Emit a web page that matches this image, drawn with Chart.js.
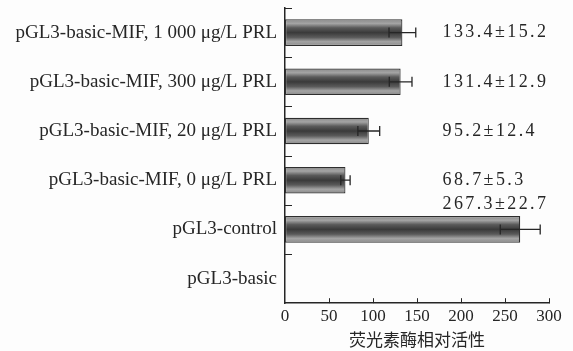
<!DOCTYPE html>
<html>
<head>
<meta charset="utf-8">
<script src="https://cdn.jsdelivr.net/npm/chart.js@4/dist/chart.umd.min.js"></script>
<style>
  html, body { margin: 0; padding: 0; background: #fdfdfd; }
  #wrap { width: 573px; height: 351px; position: relative; }
</style>
</head>
<body>
<div id="wrap"><canvas id="chart"></canvas></div>
<script>
const categories = [
    'pGL3-basic-MIF, 1 000 μg/L PRL',
    'pGL3-basic-MIF, 300 μg/L PRL',
    'pGL3-basic-MIF, 20 μg/L PRL',
    'pGL3-basic-MIF, 0 μg/L PRL',
    'pGL3-control',
    'pGL3-basic'
];
const means = [133.4, 131.4, 95.2, 68.7, 267.3, null];
const errors = [15.2, 12.9, 12.4, 5.3, 22.7, null];
const valueLabels = ['133.4±15.2', '131.4±12.9', '95.2±12.4', '68.7±5.3', '267.3±22.7', ''];
const xTicks = [0, 50, 100, 150, 200, 250, 300];

const ink = '#262626';
const serif = '"Liberation Serif", "Times New Roman", serif';

const decorations = {
    id: 'decorations',
    beforeDatasetsDraw(chart) {
        // grey bar with a darker band in the middle, like the printed figure
        const ctx = chart.ctx;
        chart.getDatasetMeta(0).data.forEach(bar => {
            const half = bar.height / 2;
            if (!isFinite(bar.y) || !(half > 0)) return;
            const g = ctx.createLinearGradient(0, bar.y - half, 0, bar.y + half);
            g.addColorStop(0, '#8a8a8a');
            g.addColorStop(0.16, '#a4a4a4');
            g.addColorStop(0.32, '#5a5a5a');
            g.addColorStop(0.5, '#3a3a3a');
            g.addColorStop(0.68, '#5a5a5a');
            g.addColorStop(0.84, '#a4a4a4');
            g.addColorStop(1, '#8a8a8a');
            bar.options.backgroundColor = g;
        });
    },
    afterDatasetsDraw(chart) {
        const ctx = chart.ctx;
        const xs = chart.scales.x, ys = chart.scales.y;
        const meta = chart.getDatasetMeta(0);
        ctx.save();
        ctx.strokeStyle = ink;
        ctx.lineWidth = 1.3;
        // error bars
        meta.data.forEach((bar, i) => {
            if (means[i] == null) return;
            const y = bar.y;
            const x1 = xs.getPixelForValue(means[i] - errors[i]);
            const x2 = xs.getPixelForValue(means[i] + errors[i]);
            ctx.beginPath();
            ctx.moveTo(x1, y); ctx.lineTo(x2, y);
            ctx.moveTo(x1, y - 5); ctx.lineTo(x1, y + 5);
            ctx.moveTo(x2, y - 5); ctx.lineTo(x2, y + 5);
            ctx.stroke();
        });
        // inward tick marks
        ctx.lineWidth = 1;
        const step = (ys.bottom - ys.top) / categories.length;
        for (let i = 0; i < categories.length; i++) {
            const y = Math.round(ys.top + i * step) + 0.5;
            ctx.beginPath();
            ctx.moveTo(xs.left, y); ctx.lineTo(xs.left + 7, y);
            ctx.stroke();
        }
        xTicks.forEach(v => {
            if (v === 0) return;
            const x = Math.round(xs.getPixelForValue(v)) + 0.5;
            ctx.beginPath();
            ctx.moveTo(x, ys.bottom); ctx.lineTo(x, ys.bottom - 5);
            ctx.stroke();
        });
        // value labels
        ctx.fillStyle = ink;
        ctx.font = '18px ' + serif;
        ctx.letterSpacing = '2.4px';
        ctx.textBaseline = 'middle';
        ctx.textAlign = 'left';
        meta.data.forEach((bar, i) => {
            if (!valueLabels[i]) return;
            let y = bar.y;
            if (means[i] > 170) y = bar.y - bar.height / 2 - 12;
            ctx.fillText(valueLabels[i], xs.getPixelForValue(179), y);
        });
        ctx.restore();
    }
};

new Chart(document.getElementById('chart'), {
    type: 'bar',
    data: {
        labels: categories,
        datasets: [{
            data: means,
            backgroundColor: () => '#6a6a6a',
            borderColor: '#2e2e2e',
            borderWidth: 1.2,
            borderSkipped: false,
            categoryPercentage: 0.9,
            barPercentage: 0.6
        }]
    },
    options: {
        indexAxis: 'y',
        responsive: true,
        maintainAspectRatio: false,
        animation: false,
        layout: { padding: { left: 8, right: 24, top: 8, bottom: 1 } },
        plugins: {
            legend: { display: false },
            tooltip: { enabled: false }
        },
        scales: {
            x: {
                min: 0,
                max: 300,
                afterBuildTicks(scale) { scale.ticks = xTicks.map(v => ({ value: v })); },
                grid: { display: false, drawTicks: false },
                border: { display: true, color: ink, width: 1.5 },
                ticks: { color: ink, font: { family: serif, size: 17 }, padding: 3 },
                title: {
                    display: true,
                    text: '荧光素酶相对活性',
                    color: ink,
                    font: { family: '"Noto Sans CJK SC", sans-serif', size: 17 },
                    padding: { top: 0, bottom: 0 }
                }
            },
            y: {
                afterFit(scale) {
                    scale.width = 277;
                    scale.paddingTop = 0;
                    scale.paddingBottom = 0;
                },
                grid: { display: false, drawTicks: false },
                border: { display: true, color: ink, width: 1.5 },
                ticks: { color: ink, font: { family: serif, size: 19 }, padding: 8 }
            }
        }
    },
    plugins: [decorations]
});
</script>
</body>
</html>
